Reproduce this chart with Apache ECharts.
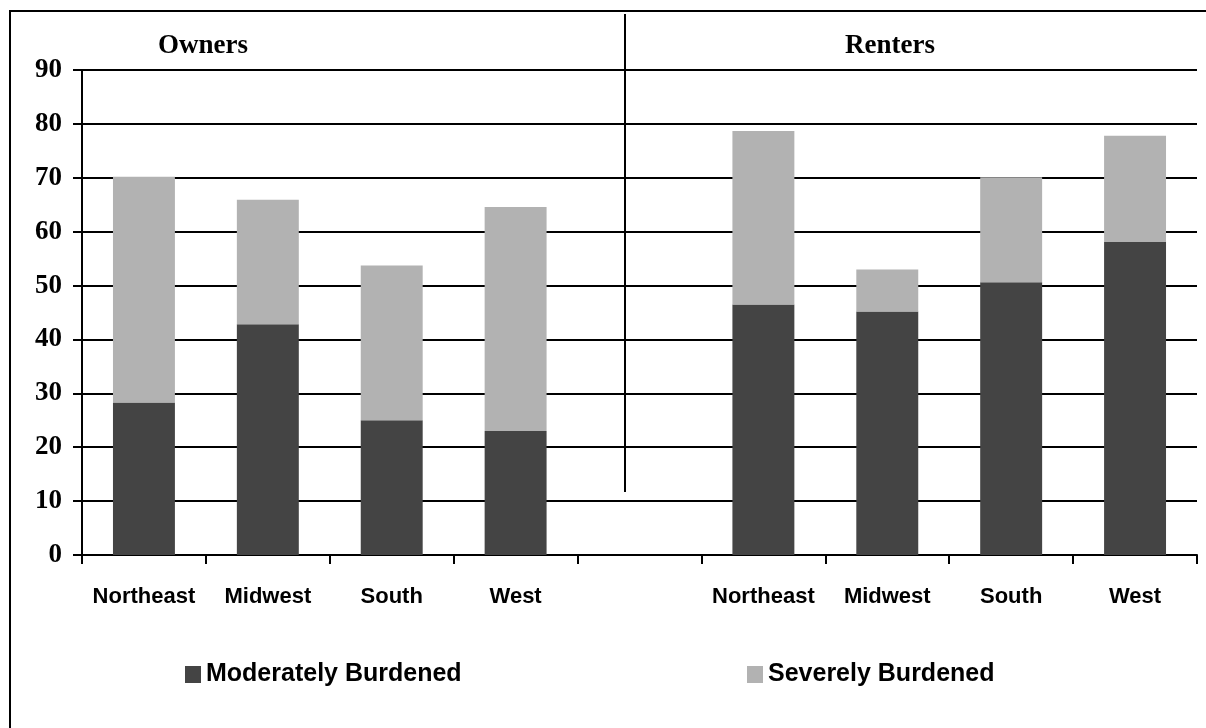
<!DOCTYPE html>
<html>
<head>
<meta charset="utf-8">
<script src="https://cdn.jsdelivr.net/npm/echarts@6/dist/echarts.min.js"></script>
<style>
  html, body { margin: 0; padding: 0; background: #fff; }
  #chart { width: 1206px; height: 728px; }
</style>
</head>
<body>
<div id="chart"></div>
<script>
// Housing cost burden by region, owners vs renters (percent)
const categories = ['Northeast', 'Midwest', 'South', 'West', '', 'Northeast', 'Midwest', 'South', 'West'];
const moderatelyBurdened = [28.3, 42.8, 25.0, 23.0, null, 46.5, 45.2, 50.6, 58.1];
const severelyBurdened   = [41.9, 23.1, 28.7, 41.6, null, 32.2, 7.8, 19.5, 19.7];
const groupTitles = ['Owners', 'Renters'];
const yTicks = { min: 0, max: 90, interval: 10 };

const serif = '"Liberation Serif", "Times New Roman", serif';
const sans = '"Liberation Sans", Arial, sans-serif';

const chart = echarts.init(document.getElementById('chart'));

const legendText = { fontFamily: sans, fontWeight: 'bold', fontSize: 25, color: '#000' };

chart.setOption({
  animation: false,
  backgroundColor: '#ffffff',
  grid: { left: 82, right: 9, top: 70, bottom: 173, containLabel: false },
  legend: [
    {
      data: ['Moderately Burdened'],
      left: 185, top: 662, padding: 0,
      icon: 'rect', itemWidth: 16, itemHeight: 17,
      textStyle: legendText
    },
    {
      data: ['Severely Burdened'],
      left: 747, top: 662, padding: 0,
      icon: 'rect', itemWidth: 16, itemHeight: 17,
      textStyle: legendText
    }
  ],
  xAxis: {
    type: 'category',
    data: categories,
    boundaryGap: true,
    axisLine: { lineStyle: { color: '#000', width: 2 } },
    axisTick: { show: true, alignWithLabel: false, length: 9, lineStyle: { color: '#000', width: 2 } },
    axisLabel: {
      interval: 0, margin: 31,
      fontFamily: sans, fontWeight: 'bold', fontSize: 22, color: '#000'
    },
    splitLine: { show: false }
  },
  yAxis: {
    type: 'value',
    min: yTicks.min, max: yTicks.max, interval: yTicks.interval,
    axisLine: { show: true, lineStyle: { color: '#000', width: 2 } },
    axisTick: { show: true, length: 9, lineStyle: { color: '#000', width: 2 } },
    axisLabel: { margin: 20, fontFamily: serif, fontWeight: 'bold', fontSize: 27, color: '#000' },
    splitLine: { show: true, lineStyle: { color: '#000', width: 2 } }
  },
  series: [
    {
      name: 'Moderately Burdened',
      type: 'bar',
      stack: 'burden',
      barWidth: '50%',
      itemStyle: { color: '#444444' },
      data: moderatelyBurdened
    },
    {
      name: 'Severely Burdened',
      type: 'bar',
      stack: 'burden',
      barWidth: '50%',
      itemStyle: { color: '#b2b2b2' },
      data: severelyBurdened
    }
  ],
  graphic: [
    // frame around the figure
    {
      type: 'rect', silent: true, z: 100,
      shape: { x: 10, y: 11, width: 1400, height: 900 },
      style: { fill: 'none', stroke: '#000', lineWidth: 2 }
    },
    // divider between the two groups
    {
      type: 'line', silent: true, z: 100,
      shape: { x1: 625, y1: 14, x2: 625, y2: 492 },
      style: { stroke: '#000', lineWidth: 2 }
    },
    {
      type: 'text', z: 100,
      style: {
        x: 203, y: 46, text: groupTitles[0],
        align: 'center', verticalAlign: 'middle',
        font: 'bold 27px ' + serif, fill: '#000'
      }
    },
    {
      type: 'text', z: 100,
      style: {
        x: 890, y: 46, text: groupTitles[1],
        align: 'center', verticalAlign: 'middle',
        font: 'bold 27px ' + serif, fill: '#000'
      }
    }
  ]
});
</script>
</body>
</html>
